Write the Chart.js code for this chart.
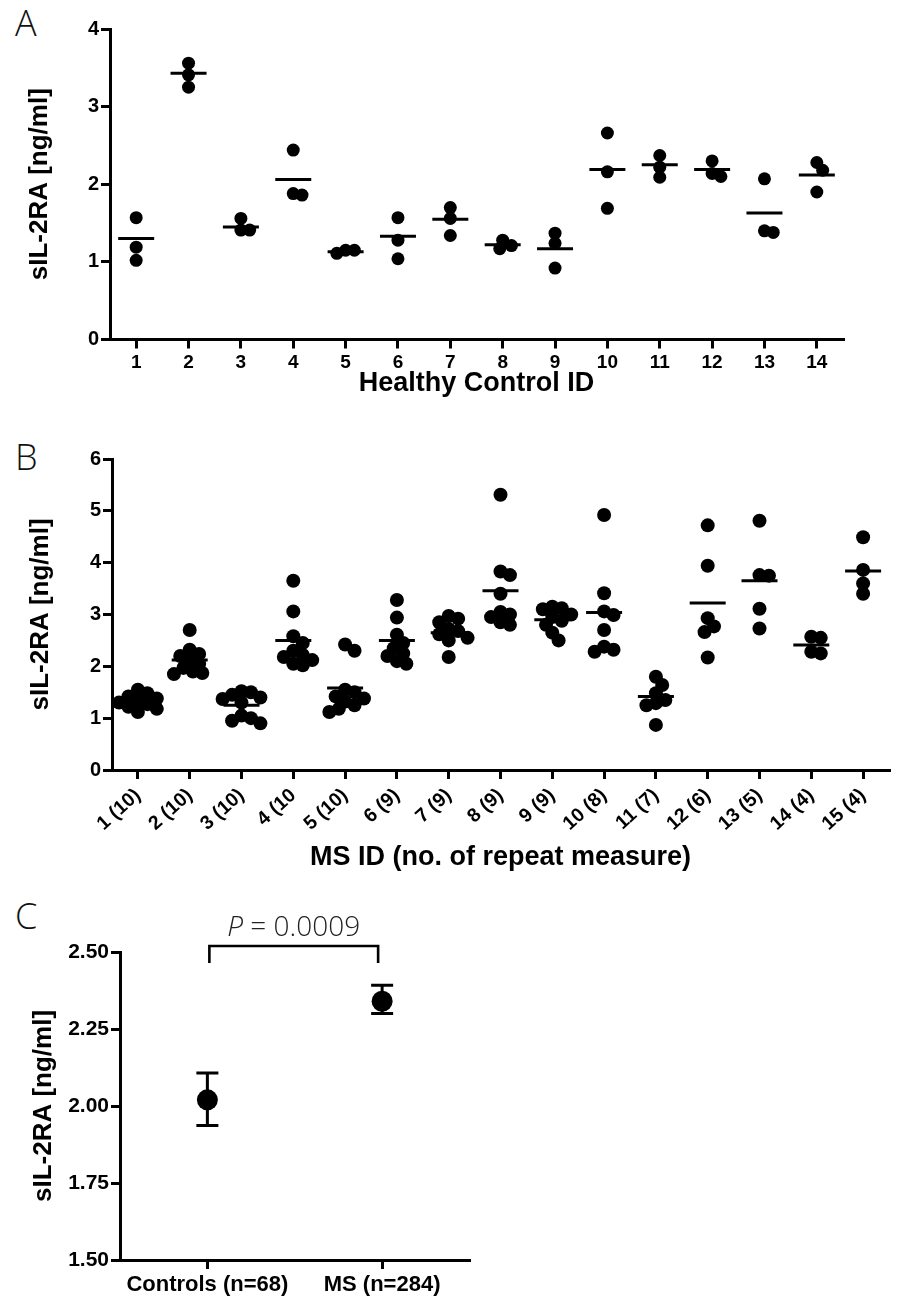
<!DOCTYPE html>
<html>
<head>
<meta charset="utf-8">
<script src="https://cdn.jsdelivr.net/npm/chart.js@4.4.1/dist/chart.umd.min.js"></script>
<style>
  html, body { margin: 0; padding: 0; background: #fff; overflow: hidden; width: 902px; height: 1299px; }
  .panel { position: absolute; }
  .letter { position: absolute; left: 15px; font-family: 'Open Sans', 'DejaVu Sans', sans-serif; font-weight: 300; font-size: 36px; line-height: 36px; color: #111; }
</style>
</head>
<body>
<div class="letter" style="top:5px">A</div>
<div class="letter" style="top:439px">B</div>
<div class="letter" style="top:898px">C</div>
<canvas id="cA" class="panel" width="902" height="400" style="left:0;top:0"></canvas>
<canvas id="cB" class="panel" width="910" height="450" style="left:0;top:430px"></canvas>
<canvas id="cC" class="panel" width="480" height="409" style="left:0;top:890px"></canvas>
<script>
// ---------------- DATA ----------------
const controlIds = ['1','2','3','4','5','6','7','8','9','10','11','12','13','14'];
const controlValues = [
  [1.57, 1.19, 1.02],
  [3.56, 3.41, 3.25],
  [1.56, 1.41, 1.41],
  [2.44, 1.86, 1.88],
  [1.15, 1.11, 1.15],
  [1.57, 1.28, 1.04],
  [1.70, 1.56, 1.34],
  [1.28, 1.17, 1.21],
  [1.37, 1.24, 0.92],
  [2.66, 2.16, 1.69],
  [2.37, 2.22, 2.09],
  [2.30, 2.10, 2.14],
  [2.07, 1.38, 1.40],
  [2.28, 2.18, 1.90]
];
const controlMeans = [1.30, 3.43, 1.45, 2.06, 1.13, 1.33, 1.55, 1.22, 1.17, 2.19, 2.25, 2.19, 1.63, 2.12];
const controlYTicks = [0, 1, 2, 3, 4];

const msIds = ['1 (10)','2 (10)','3 (10)','4 (10','5 (10)','6 (9)','7 (9)','8 (9)','9 (9)','10 (8)','11 (7)','12 (6)','13 (5)','14 (4)','15 (4)'];
const msValues = [
  [1.55, 1.48, 1.42, 1.38, 1.35, 1.30, 1.27, 1.22, 1.18, 1.12],
  [2.70, 2.32, 2.24, 2.20, 2.12, 2.05, 1.97, 1.90, 1.87, 1.85],
  [1.52, 1.50, 1.45, 1.40, 1.37, 1.30, 1.05, 1.00, 0.95, 0.90],
  [3.65, 3.06, 2.58, 2.45, 2.30, 2.22, 2.18, 2.12, 2.05, 2.02],
  [2.42, 2.30, 1.55, 1.50, 1.42, 1.38, 1.32, 1.25, 1.18, 1.12],
  [3.28, 2.94, 2.61, 2.45, 2.35, 2.25, 2.20, 2.10, 2.05],
  [2.97, 2.92, 2.85, 2.72, 2.68, 2.62, 2.55, 2.50, 2.18],
  [5.31, 3.83, 3.76, 3.40, 3.05, 3.00, 2.95, 2.85, 2.80],
  [3.15, 3.12, 3.10, 3.00, 2.95, 2.88, 2.80, 2.65, 2.50],
  [4.92, 3.41, 3.06, 2.99, 2.70, 2.38, 2.32, 2.28],
  [1.80, 1.64, 1.48, 1.35, 1.29, 1.25, 0.87],
  [4.72, 3.94, 2.93, 2.77, 2.66, 2.17],
  [4.81, 3.76, 3.75, 3.11, 2.73],
  [2.57, 2.55, 2.28, 2.25],
  [4.49, 3.86, 3.60, 3.40]
];
const msMeans = [1.32, 2.12, 1.25, 2.50, 1.58, 2.50, 2.65, 3.46, 2.90, 3.04, 1.42, 3.22, 3.65, 2.41, 3.84];
const msYTicks = [0, 1, 2, 3, 4, 5, 6];

const groupLabels = ['Controls (n=68)', 'MS (n=284)'];
const groupMeans = [2.02, 2.34];
const groupLower = [1.937, 2.30];
const groupUpper = [2.107, 2.392];
const groupYTicks = [1.50, 1.75, 2.00, 2.25, 2.50];
const pValueLabel = '0.0009';

// ---------------- STYLE ----------------
Chart.defaults.font.family = "'Liberation Sans', Arial, Helvetica, sans-serif";
Chart.defaults.font.weight = 'bold';
Chart.defaults.color = '#000';
Chart.defaults.animation = false;

const AXW = 3;
function axisCommon() {
  return {
    border: { display: true, color: '#000', width: AXW },
    grid: { display: true, drawOnChartArea: false, drawTicks: true, tickLength: 9, lineWidth: AXW, color: '#000', offset: false }
  };
}

function makeX(labels, opts) {
  return Object.assign(axisCommon(), {
    type: 'linear',
    min: -0.5,
    max: labels.length - 0.5,
    afterBuildTicks: s => { s.ticks = labels.map((_, i) => ({ value: i })); },
    ticks: Object.assign({ callback: v => labels[Math.round(v)], padding: 3, autoSkip: false }, opts.ticks),
    title: opts.title,
    afterFit: s => { s.height = opts.height; }
  });
}
function makeY(tickVals, opts) {
  return Object.assign(axisCommon(), {
    type: 'linear',
    min: tickVals[0],
    max: tickVals[tickVals.length - 1],
    afterBuildTicks: s => { s.ticks = tickVals.map(v => ({ value: v })); },
    ticks: { callback: v => v.toFixed(opts.decimals), padding: 2, font: { size: opts.tickSize, weight: 'bold' } },
    title: { display: true, text: 'sIL-2RA [ng/ml]', font: { size: 26, weight: 'bold' }, padding: { top: opts.titlePad, bottom: 0 } },
    afterFit: s => { s.width = opts.width; }
  });
}

function swarmOffsets(values, pxY, r, ppx) {
  const order = values.map((v, i) => i).sort((a, b) => values[b] - values[a]);
  const placed = [];
  const offs = new Array(values.length).fill(0);
  const step = r * 0.45, minD = r * 1.35;
  for (const i of order) {
    const y = pxY(values[i]);
    let dx = 0;
    for (let t = 0; t < 80; t++) {
      const k = t === 0 ? 0 : (t % 2 ? Math.ceil(t / 2) : -t / 2);
      dx = k * step;
      if (placed.every(p => Math.hypot(p.x - dx, p.y - y) >= minD)) break;
    }
    placed.push({ x: dx, y: y });
    offs[i] = dx / ppx;
  }
  return offs;
}

function dotPlot(canvasId, labels, values, means, yTicks, cfg) {
  const pts = [];
  values.forEach((g, i) => g.forEach(v => pts.push({ x: i, y: v })));
  const chart = new Chart(document.getElementById(canvasId), {
    type: 'scatter',
    data: {
      datasets: [
        { data: pts, pointRadius: cfg.r, pointHoverRadius: cfg.r, backgroundColor: '#000', borderColor: '#000', borderWidth: 0, clip: false },
        { data: means.map((m, i) => ({ x: i, y: m })), pointStyle: 'line', pointRadius: 18, pointHoverRadius: 18, pointBorderWidth: 3, borderColor: '#000', backgroundColor: '#000', clip: false }
      ]
    },
    options: {
      responsive: false,
      events: [],
      layout: { padding: cfg.padding },
      plugins: { legend: { display: false }, tooltip: { enabled: false } },
      scales: {
        x: makeX(labels, cfg.x),
        y: makeY(yTicks, cfg.y)
      }
    }
  });
  const xs = chart.scales.x, ys = chart.scales.y;
  const ppx = xs.getPixelForValue(1) - xs.getPixelForValue(0);
  const jittered = [];
  values.forEach((g, i) => {
    const offs = swarmOffsets(g, v => ys.getPixelForValue(v), cfg.r, ppx);
    g.forEach((v, j) => jittered.push({ x: i + offs[j], y: v }));
  });
  chart.data.datasets[0].data = jittered;
  chart.update('none');
  return chart;
}

// Panel A
dotPlot('cA', controlIds, controlValues, controlMeans, controlYTicks, {
  r: 6.5,
  padding: { top: 29, right: 59, left: 0, bottom: 0 },
  x: { height: 60.5, ticks: { font: { size: 19, weight: 'bold' }, maxRotation: 0, minRotation: 0 },
       title: { display: true, text: 'Healthy Control ID', font: { size: 27, weight: 'bold' }, padding: { top: 0, bottom: 0 } } },
  y: { decimals: 0, tickSize: 20, width: 110, titlePad: 24 }
});

// Panel B
dotPlot('cB', msIds, msValues, msMeans, msYTicks, {
  r: 7,
  padding: { top: 29, right: 5, left: 0, bottom: 0 },
  x: { height: 110, ticks: { font: { size: 19.5, weight: 'bold' }, maxRotation: 42, minRotation: 42, padding: 5 },
       title: { display: true, text: 'MS ID (no. of repeat measure)', font: { size: 27, weight: 'bold' }, padding: { top: 0, bottom: 6 } } },
  y: { decimals: 0, tickSize: 20, width: 112, titlePad: 25 }
});

// Panel C
const errorBarPlugin = {
  id: 'errbars',
  afterDatasetsDraw(chart) {
    const { ctx, scales: { x, y } } = chart;
    ctx.save();
    ctx.strokeStyle = '#000';
    ctx.lineWidth = 3;
    groupMeans.forEach((m, i) => {
      const px = x.getPixelForValue(i);
      const top = y.getPixelForValue(groupUpper[i]);
      const bot = y.getPixelForValue(groupLower[i]);
      ctx.beginPath();
      ctx.moveTo(px, top); ctx.lineTo(px, bot);
      ctx.moveTo(px - 11, top); ctx.lineTo(px + 11, top);
      ctx.moveTo(px - 11, bot); ctx.lineTo(px + 11, bot);
      ctx.stroke();
    });
    // significance bracket
    const x0 = x.getPixelForValue(0) + 2, x1 = x.getPixelForValue(1) - 4;
    const yTop = chart.chartArea.top - 6;
    ctx.lineWidth = 2.6;
    ctx.beginPath();
    ctx.moveTo(x0, yTop + 17); ctx.lineTo(x0, yTop); ctx.lineTo(x1, yTop); ctx.lineTo(x1, yTop + 17);
    ctx.stroke();
    // P value
    const cx = (x0 + x1) / 2;
    ctx.fillStyle = '#222';
    ctx.textBaseline = 'alphabetic';
    const f1 = "italic 300 28px 'Open Sans', 'Liberation Sans', sans-serif";
    const f2 = "300 28px 'Open Sans', 'Liberation Sans', sans-serif";
    ctx.font = f1; const wP = ctx.measureText('P').width;
    ctx.font = f2; const wR = ctx.measureText(' = ' + pValueLabel).width;
    const sx = cx - (wP + wR) / 2, by = yTop - 10;
    ctx.font = f1; ctx.fillText('P', sx, by);
    ctx.font = f2; ctx.fillText(' = ' + pValueLabel, sx + wP, by);
    ctx.restore();
  }
};

new Chart(document.getElementById('cC'), {
  type: 'scatter',
  data: {
    datasets: [
      { data: groupMeans.map((m, i) => ({ x: i, y: m })), pointRadius: 10.5, pointHoverRadius: 10.5, backgroundColor: '#000', borderColor: '#000', borderWidth: 0, clip: false }
    ]
  },
  options: {
    responsive: false,
    events: [],
    layout: { padding: { top: 62, right: 5, left: 0, bottom: 0 } },
    plugins: { legend: { display: false }, tooltip: { enabled: false } },
    scales: {
      x: makeX(groupLabels, { height: 39, ticks: { font: { size: 22, weight: 'bold' }, maxRotation: 0, minRotation: 0, padding: 3 } }),
      y: makeY(groupYTicks, { decimals: 2, tickSize: 21, width: 120, titlePad: 28 })
    }
  },
  plugins: [errorBarPlugin]
});
</script>
</body>
</html>
